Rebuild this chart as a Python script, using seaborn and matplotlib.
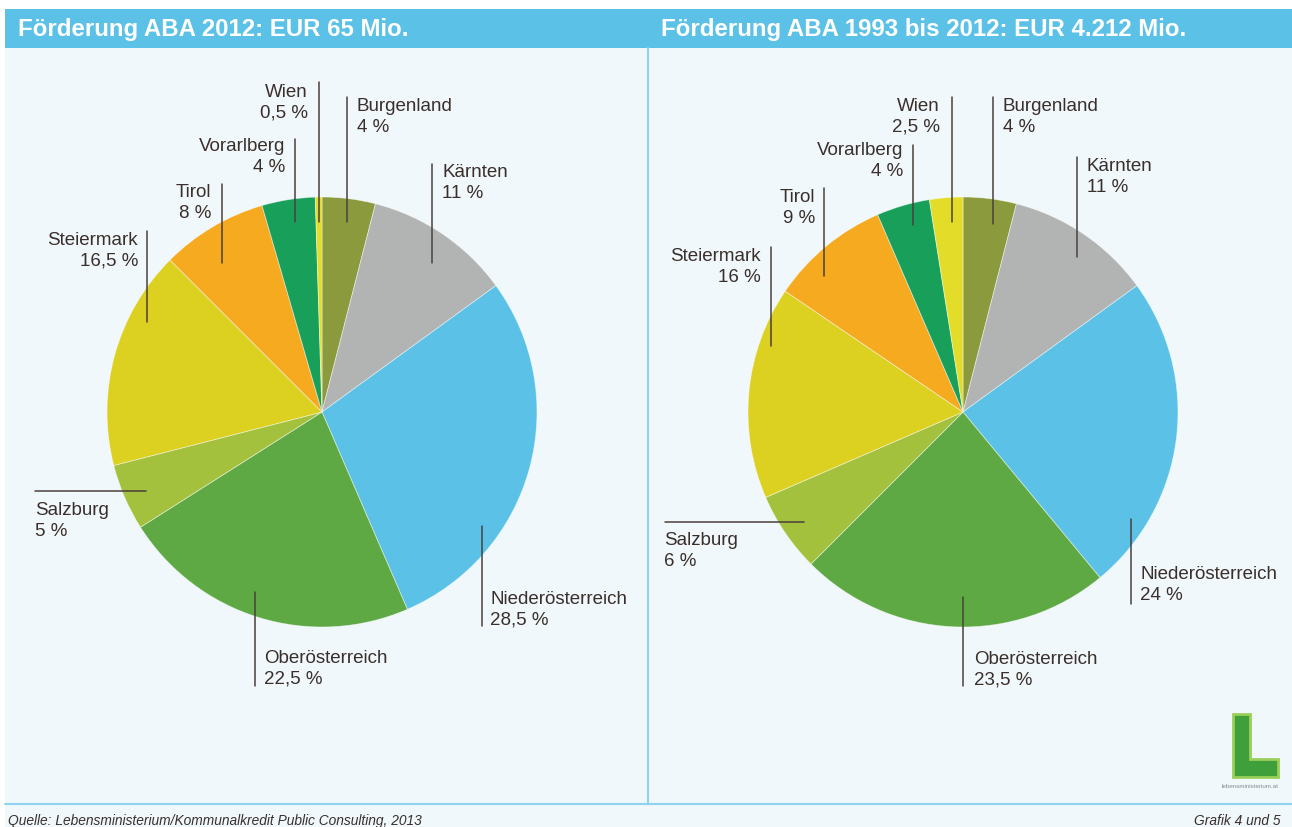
import matplotlib

matplotlib.use("Agg")
import matplotlib.pyplot as plt
import seaborn as sns
from matplotlib.patches import Rectangle, Polygon

# data
regions = ["Burgenland", "Kärnten", "Niederösterreich", "Oberösterreich", "Salzburg",
           "Steiermark", "Tirol", "Vorarlberg", "Wien"]
share_2012 = [4, 11, 28.5, 22.5, 5, 16.5, 8, 4, 0.5]
share_total = [4, 11, 24, 23.5, 6, 16, 9, 4, 2.5]
titles = ["Förderung ABA 2012: EUR 65 Mio.", "Förderung ABA 1993 bis 2012: EUR 4.212 Mio."]
slice_colors = ["#8a9a3c", "#b1b4b3", "#5bc1e6", "#5ea944", "#a3c13c",
                "#dcd020", "#f5aa1f", "#18a05a", "#e3dc28"]
source = "Quelle: Lebensministerium/Kommunalkredit Public Consulting, 2013"
graphic_no = "Grafik 4 und 5"

# layout (pixel coords, y measured from top)
W, H = 1292, 828
pie_centers = [(322, 413), (963, 413)]
pie_radius = 215
# per label: kind, line x (or y), line from, line to, text x, text y, alignment
label_layout = [
    {
        "Burgenland": ("v", 347, 98, 223, 357, 98, "left"),
        "Kärnten": ("v", 432, 165, 264, 442, 164, "left"),
        "Niederösterreich": ("v", 482, 527, 627, 490, 591, "left"),
        "Oberösterreich": ("v", 255, 593, 687, 264, 650, "left"),
        "Salzburg": ("h", 492, 35, 146, 35, 502, "left"),
        "Steiermark": ("v", 147, 232, 323, 138, 232, "right"),
        "Tirol": ("v", 222, 185, 264, 211, 184, "right"),
        "Vorarlberg": ("v", 295, 140, 223, 285, 138, "right"),
        "Wien": ("v", 319, 83, 223, 308, 84, "right"),
    },
    {
        "Burgenland": ("v", 993, 98, 225, 1003, 98, "left"),
        "Kärnten": ("v", 1077, 158, 258, 1087, 158, "left"),
        "Niederösterreich": ("v", 1131, 520, 605, 1140, 566, "left"),
        "Oberösterreich": ("v", 963, 598, 687, 974, 651, "left"),
        "Salzburg": ("h", 523, 665, 804, 664, 532, "left"),
        "Steiermark": ("v", 771, 248, 347, 761, 248, "right"),
        "Tirol": ("v", 824, 189, 277, 815, 189, "right"),
        "Vorarlberg": ("v", 913, 146, 226, 903, 142, "right"),
        "Wien": ("v", 952, 98, 223, 940, 98, "right"),
    },
]

sns.set_theme(style="white")
plt.rcParams["font.family"] = ["Liberation Sans", "DejaVu Sans"]

BG = "#f0f8fc"
HEAD = "#5bc1e6"
TXT = "#3a2f2b"
LINE = "#4a403c"


def fy(y):
    return H - y


def fmt_pct(v):
    s = f"{v:g}".replace(".", ",")
    return f"{s} %"


fig = plt.figure(figsize=(W / 100, H / 100), dpi=100)
fig.patch.set_facecolor("white")
ax = fig.add_axes([0, 0, 1, 1])
ax.set_axis_off()

# panel background, header, dividers
ax.add_patch(Rectangle((5, 0), W - 5, fy(49), facecolor=BG, edgecolor="none", zorder=0))
ax.add_patch(Rectangle((5, fy(49)), W - 5, 39, facecolor=HEAD, edgecolor="none", zorder=1))
ax.plot([648, 648], [fy(49), fy(805)], color="#8fd3ee", lw=1.5, zorder=1)
ax.plot([5, W], [fy(805), fy(805)], color="#8fd3ee", lw=1.5, zorder=1)

palette = sns.color_palette(slice_colors)
for ci, (values, title) in enumerate(zip([share_2012, share_total], titles)):
    cx, cy = pie_centers[ci]
    ax.pie(values, colors=palette, startangle=90, counterclock=False,
           center=(cx, fy(cy)), radius=pie_radius,
           wedgeprops={"linewidth": 0.6, "edgecolor": (1, 1, 1, 0.5)}, frame=True)
    ax.text(18 + ci * 643, fy(29), title, color="white", fontsize=17.3, fontweight="bold",
            ha="left", va="center", zorder=3)
    for name, v in zip(regions, values):
        kind, a, b, c, tx, ty, side = label_layout[ci][name]
        if kind == "v":
            ax.plot([a, a], [fy(b), fy(c)], color=LINE, lw=1.1, zorder=4)
        else:
            ax.plot([b, c], [fy(a), fy(a)], color=LINE, lw=1.1, zorder=4)
        ax.text(tx, fy(ty), f"{name}\n{fmt_pct(v)}", color=TXT, fontsize=13.5,
                ha=side, va="top", multialignment=side, linespacing=1.3, zorder=5)

# logo
ax.add_patch(Polygon([(1233, fy(715)), (1250, fy(715)), (1250, fy(760)), (1278, fy(760)),
                      (1278, fy(778)), (1233, fy(778))], closed=True,
                     facecolor="#3f9f3a", edgecolor="#9ccf5a", lw=2, zorder=3))
ax.text(1222, fy(787), "lebensministerium.at", fontsize=4.5, color="#8a8a8a",
        ha="left", va="center", zorder=3)

# footer
ax.text(8, fy(821), source, fontsize=9.9, style="italic", color=TXT, ha="left", va="center")
ax.text(1280, fy(821), graphic_no, fontsize=9.9, style="italic", color=TXT, ha="right", va="center")

ax.set_xlim(0, W)
ax.set_ylim(0, H)
ax.set_aspect("auto")
ax.set_axis_off()

fig.savefig("out.png", dpi=100, facecolor=fig.get_facecolor())
plt.close(fig)
